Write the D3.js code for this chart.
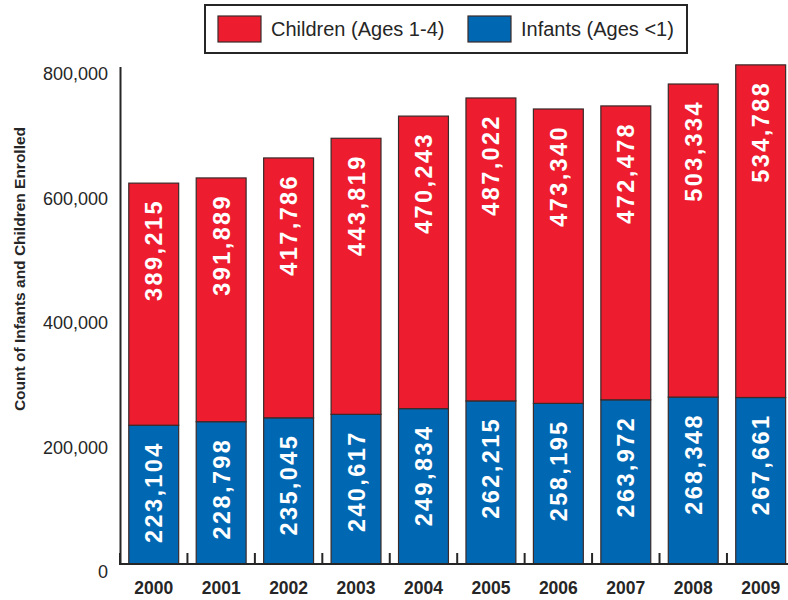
<!DOCTYPE html>
<html>
<head>
<meta charset="utf-8">
<script src="https://cdn.jsdelivr.net/npm/d3@7"></script>
<style>
  html, body { margin: 0; padding: 0; background: #fff; }
  svg { display: block; font-family: "Liberation Sans", Arial, sans-serif; }
</style>
</head>
<body>
<svg id="chart" width="788" height="600"></svg>
<script>
// Enrollment counts by year
const years = ["2000","2001","2002","2003","2004","2005","2006","2007","2008","2009"];
const infants = [223104, 228798, 235045, 240617, 249834, 262215, 258195, 263972, 268348, 267661];
const children = [389215, 391889, 417786, 443819, 470243, 487022, 473340, 472478, 503334, 534788];
const yTicks = [0, 200000, 400000, 600000, 800000];
const seriesNames = ["Children (Ages 1-4)", "Infants (Ages <1)"];

const RED = "#ED1C2E", BLUE = "#0068B3", INK = "#262626";

const svg = d3.select("#chart");

const x = d3.scaleBand().domain(years).range([120, 794.4]).paddingInner(0.26).paddingOuter(0.13);
const y = d3.scaleLinear().domain([0, 800000]).range([564, 66.4]);

const rows = years.map((yr, i) => ({ year: yr, infants: infants[i], children: children[i] }));
const stack = d3.stack().keys(["infants", "children"])(rows);
const colors = { infants: BLUE, children: RED };

// Bars
stack.forEach(layer => {
  svg.append("g").selectAll("rect").data(layer).join("rect")
    .attr("x", d => x(d.data.year))
    .attr("width", x.bandwidth())
    .attr("y", d => y(d[1]))
    .attr("height", d => y(d[0]) - y(d[1]))
    .attr("fill", colors[layer.key])
    .attr("stroke", "#3a2a2a")
    .attr("stroke-width", 1.2);
});

// Value labels, rotated, near the top of each segment
const fmt = d3.format(",");
stack.forEach(layer => {
  svg.append("g").selectAll("text").data(layer).join("text")
    .attr("transform", d => `translate(${x(d.data.year) + x.bandwidth() / 2},${y(d[1]) + 16}) rotate(-90)`)
    .attr("text-anchor", "end")
    .attr("dy", "0.36em")
    .attr("fill", "#fff")
    .attr("font-weight", "bold")
    .attr("font-size", 23.5)
    .attr("letter-spacing", 2.4)
    .text(d => fmt(d.data[layer.key]));
});

// Y axis: line and labels only
const yAxis = svg.append("g")
  .attr("transform", "translate(120,0)")
  .call(d3.axisLeft(y).tickValues(yTicks).tickSize(0).tickPadding(12).tickFormat(d3.format(",")));
yAxis.select(".domain").attr("stroke", INK).attr("stroke-width", 2);
yAxis.selectAll("text")
  .attr("font-size", 18)
  .attr("font-family", "Liberation Sans, Arial, sans-serif")
  .attr("fill", INK)
  .attr("dy", "0.75em");

// X axis: baseline with upward ticks between bars
const boundaries = years.map(yr => x(yr) - x.step() * x.paddingInner() / 2);
boundaries.push(x(years[years.length - 1]) + x.bandwidth() + x.step() * x.paddingInner() / 2);
const xg = svg.append("g");
xg.append("line")
  .attr("x1", 119).attr("x2", 788)
  .attr("y1", y(0)).attr("y2", y(0))
  .attr("stroke", INK).attr("stroke-width", 2);
xg.selectAll("line.tick").data(boundaries).join("line")
  .attr("class", "tick")
  .attr("x1", d => d).attr("x2", d => d)
  .attr("y1", y(0)).attr("y2", y(0) - 11)
  .attr("stroke", INK).attr("stroke-width", 2);
xg.selectAll("text").data(years).join("text")
  .attr("x", d => x(d) + x.bandwidth() / 2)
  .attr("y", 594)
  .attr("text-anchor", "middle")
  .attr("font-weight", "bold")
  .attr("font-size", 17.5)
  .attr("fill", INK)
  .text(d => d);

// Y axis title
svg.append("text")
  .attr("transform", "translate(19,269) rotate(-90)")
  .attr("text-anchor", "middle")
  .attr("dy", "0.36em")
  .attr("font-weight", "bold")
  .attr("font-size", 15.5)
  .attr("fill", INK)
  .text("Count of Infants and Children Enrolled");

// Legend
const lg = svg.append("g");
lg.append("rect")
  .attr("x", 205).attr("y", 5).attr("width", 482).attr("height", 48)
  .attr("fill", "#fff").attr("stroke", INK).attr("stroke-width", 2);
const legendItems = [
  { name: seriesNames[0], color: RED, x: 218 },
  { name: seriesNames[1], color: BLUE, x: 468 }
];
legendItems.forEach(it => {
  lg.append("rect")
    .attr("x", it.x).attr("y", 16).attr("width", 43).attr("height", 26)
    .attr("fill", it.color).attr("stroke", "#3a2a2a").attr("stroke-width", 1.2);
  lg.append("text")
    .attr("x", it.x + 53).attr("y", 29)
    .attr("dy", "0.36em")
    .attr("font-size", 20)
    .attr("fill", INK)
    .text(it.name);
});
</script>
</body>
</html>
